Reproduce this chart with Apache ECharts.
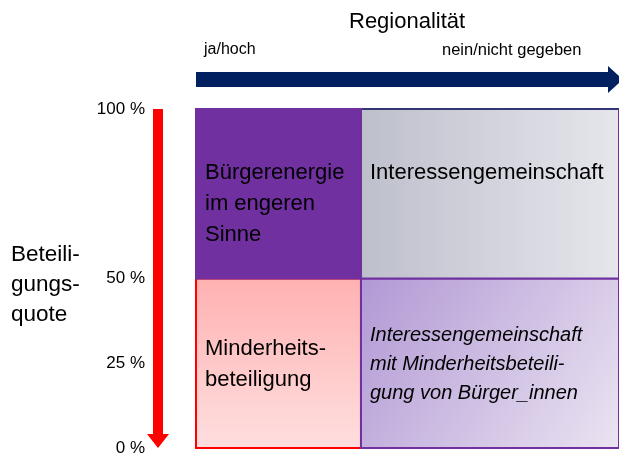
<!DOCTYPE html>
<html>
<head>
<meta charset="utf-8">
<script src="https://cdn.jsdelivr.net/npm/echarts@6/dist/echarts.min.js"></script>
<style>html,body{margin:0;padding:0;background:#fff}#c{width:619px;height:460px}</style>
</head>
<body>
<div id="c"></div>
<script>
// ---- data ----
const xTitle = 'Regionalität';
const xEndLabels = ['ja/hoch', 'nein/nicht gegeben'];
const yTitle = 'Beteili-\ngungs-\nquote';
const yTickValues = [0, 25, 50, 100];
const cellX0 = [0, 39, 0, 39];
const cellX1 = [39, 100, 39, 100];
const cellY0 = [50, 50, 0, 0];
const cellY1 = [100, 100, 50, 50];
const cellTexts = [
  'Bürgerenergie\nim engeren\nSinne',
  'Interessengemeinschaft',
  'Minderheits-\nbeteiligung',
  'Interessengemeinschaft\nmit Minderheitsbeteili-\ngung von Bürger_innen'
];
const arrowX = [0, 100];
const arrowY = [100, 0];

// ---- styles ----
const FONT = '"Liberation Sans", Arial, sans-serif';
const drawOrder = [2, 3, 1, 0];
const cellStyles = [
  { fill: '#7030a0', stroke: '#7030a0', text: { fontSize: 22, lineHeight: 31, dy: 48, italic: false } },
  { fill: new echarts.graphic.LinearGradient(0, 0, 1, 0, [{offset: 0, color: '#bdbfcb'}, {offset: 1, color: '#e6e6ec'}]),
    stroke: '#7030a0', top: '#1f3864', text: { fontSize: 22, lineHeight: 31, dy: 48, italic: false } },
  { fill: new echarts.graphic.LinearGradient(0, 0, 0, 1, [{offset: 0, color: '#ffb1b1'}, {offset: 1, color: '#ffdfdf'}]),
    stroke: '#ff0000', text: { fontSize: 22, lineHeight: 31, dy: 55, italic: false } },
  { fill: new echarts.graphic.LinearGradient(0, 0, 1, 1, [{offset: 0, color: '#b198d4'}, {offset: 1, color: '#ebe4f2'}]),
    stroke: '#7030a0', text: { fontSize: 20, lineHeight: 29, dy: 42, italic: true } }
];

const cellData = drawOrder.map(i => [cellX0[i], cellX1[i], cellY0[i], cellY1[i], i]);

const chart = echarts.init(document.getElementById('c'), null, { renderer: 'canvas' });

chart.setOption({
  animation: false,
  backgroundColor: '#ffffff',
  title: [
    { text: xTitle, left: 344, top: 6, textStyle: { fontFamily: FONT, fontSize: 22, fontWeight: 'normal', color: '#000' } },
    { text: xEndLabels[0], left: 199, top: 37, textStyle: { fontFamily: FONT, fontSize: 16, fontWeight: 'normal', color: '#000' } },
    { text: xEndLabels[1], left: 437, top: 37, textStyle: { fontFamily: FONT, fontSize: 16.5, fontWeight: 'normal', color: '#000' } },
    { text: yTitle, left: 6, top: 235, textStyle: { fontFamily: FONT, fontSize: 22.5, lineHeight: 30, fontWeight: 'normal', color: '#000' } }
  ],
  grid: { left: 196, right: 0, top: 109, bottom: 12 },
  xAxis: { type: 'value', min: 0, max: 100, show: false },
  yAxis: {
    type: 'value', min: 0, max: 100,
    axisLine: { show: false }, axisTick: { show: false }, splitLine: { show: false },
    axisLabel: {
      customValues: yTickValues,
      formatter: '{value} %',
      margin: 51,
      fontFamily: FONT, fontSize: 17, color: '#000'
    }
  },
  series: [
    {
      type: 'custom',
      data: cellData,
      encode: { x: [0, 1], y: [2, 3] },
      renderItem: function (params, api) {
        const i = api.value(4);
        const p0 = api.coord([api.value(0), api.value(3)]);
        const p1 = api.coord([api.value(1), api.value(2)]);
        const s = cellStyles[i];
        const w = p1[0] - p0[0], h = p1[1] - p0[1];
        const children = [
          { type: 'rect', shape: { x: p0[0], y: p0[1], width: w, height: h },
            style: { fill: s.fill, stroke: s.stroke, lineWidth: 2 } }
        ];
        if (s.top) {
          children.push({ type: 'line', shape: { x1: p0[0], y1: p0[1], x2: p1[0], y2: p0[1] },
            style: { stroke: s.top, lineWidth: 1.5 } });
        }
        children.push({
          type: 'text',
          x: p0[0] + 9, y: p0[1] + s.text.dy,
          style: {
            text: cellTexts[i],
            fontFamily: FONT,
            fontSize: s.text.fontSize,
            lineHeight: s.text.lineHeight,
            fontStyle: s.text.italic ? 'italic' : 'normal',
            fill: '#000',
            verticalAlign: 'top',
            align: 'left'
          }
        });
        return { type: 'group', children: children };
      },
      z: 2
    },
    {
      // vertical red arrow (Beteiligungsquote 100 % -> 0 %)
      type: 'custom',
      data: [[arrowY[0], arrowY[1]]],
      clip: false,
      renderItem: function (params, api) {
        const top = api.coord([0, api.value(0)]);
        const bot = api.coord([0, api.value(1)]);
        const cx = top[0] - 38;
        const hw = 5, hh = 11, hl = 14;
        return {
          type: 'polygon',
          shape: { points: [
            [cx - hw, top[1]], [cx + hw, top[1]], [cx + hw, bot[1] - hl], [cx + hh, bot[1] - hl],
            [cx, bot[1]], [cx - hh, bot[1] - hl], [cx - hw, bot[1] - hl]
          ] },
          style: { fill: '#ff0000' }
        };
      },
      z: 3
    },
    {
      // horizontal navy arrow (Regionalität)
      type: 'custom',
      data: [[arrowX[0], arrowX[1]]],
      clip: false,
      renderItem: function (params, api) {
        const l = api.coord([api.value(0), 100]);
        const r = api.coord([api.value(1), 100]);
        const cy = l[1] - 29.5;
        const hw = 7.5, hh = 13.5, hl = 15;
        const tip = r[0] + 4;
        return {
          type: 'polygon',
          shape: { points: [
            [l[0], cy - hw], [tip - hl, cy - hw], [tip - hl, cy - hh], [tip, cy],
            [tip - hl, cy + hh], [tip - hl, cy + hw], [l[0], cy + hw]
          ] },
          style: { fill: '#002060' }
        };
      },
      z: 3
    }
  ]
});
</script>
</body>
</html>
